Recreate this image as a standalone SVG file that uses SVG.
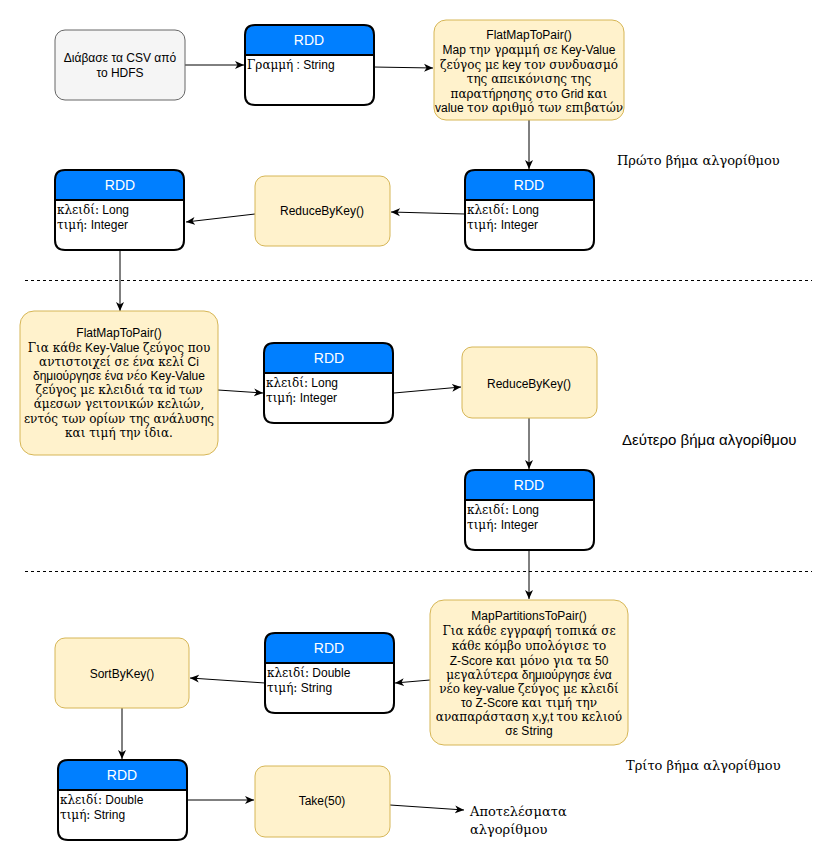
<svg xmlns="http://www.w3.org/2000/svg" width="836" height="862" viewBox="0 0 836 862">
<style>
text{font-family:"Liberation Sans",Arial,sans-serif;font-size:12px;fill:#000}
.g{font-family:"DejaVu Serif","Liberation Serif",serif;font-size:12px}
.c{text-anchor:middle}
.t{fill:#fff;font-size:14px;text-anchor:middle}
.y{fill:#fff2cc;stroke:#d6b656;stroke-width:1}
.gr{fill:#f5f5f5;stroke:#666;stroke-width:1}
.hd{fill:#007fff;stroke:#000;stroke-width:2}
.bd{fill:#fff;stroke:#000;stroke-width:2}
.e{fill:none;stroke:#000;stroke-width:1;marker-end:url(#a)}
.d{fill:none;stroke:#000;stroke-width:1;stroke-dasharray:3 3;shape-rendering:crispEdges}
.lbl{font-family:"DejaVu Serif","Liberation Serif",serif;font-size:13px}
</style>
<defs>
<marker id="a" markerWidth="10" markerHeight="10" refX="9" refY="5" orient="auto" markerUnits="userSpaceOnUse">
<path d="M0,1 L9,5 L0,9 L2.5,5 Z" fill="#000"/>
</marker>
<g id="rdd">
<path class="bd" d="M0,30 H129 V70 Q129,80 119,80 H10 Q0,80 0,70 Z"/>
<path class="hd" d="M0,30 V10 Q0,0 10,0 H119 Q129,0 129,10 V30 Z"/>
</g>
</defs>

<g id="connectors">
<path class="e" d="M185,65 L244,65"/>
<path class="e" d="M373,67 L433,68"/>
<path class="e" d="M529,120 L529,169"/>
<path class="e" d="M465,214 L391,212"/>
<path class="e" d="M255,214 L186,222"/>
<path class="e" d="M120,250 L120,311"/>
<path class="e" d="M218,390 L263,393"/>
<path class="e" d="M394,393 L461,387"/>
<path class="e" d="M529,418 L529,469"/>
<path class="e" d="M529,550 L529,599"/>
<path class="e" d="M430,680 L395,683"/>
<path class="e" d="M265,683 L190,678"/>
<path class="e" d="M122,708 L122,759"/>
<path class="e" d="M188,800 L254,800"/>
<path class="e" d="M390,805 L464,810"/>
</g>

<g id="separators">
<path class="d" d="M25,280.5 H812"/>
<path class="d" d="M25,571.5 H812"/>
</g>

<g id="readcsv">
<rect class="gr" x="55" y="30" width="130" height="70" rx="10"/>
<text class="c" x="120" y="62">Διάβασε τα CSV από</text>
<text class="c" x="120" y="77">το HDFS</text>
</g>

<g id="rdd1">
<use href="#rdd" transform="translate(245,25)"/>
<text class="t" x="309" y="45">RDD</text>
<text x="247" y="69"><tspan class="g">Γραμμή</tspan> : String</text>
</g>

<g id="flatmap1">
<rect class="y" x="434" y="20" width="190" height="100" rx="12"/>
<text class="c" x="529" y="39">FlatMapToPair()</text>
<text class="c" x="529" y="54">Map <tspan class="g">την γραμμή σε</tspan> Key-Value</text>
<text class="c" x="529" y="69"><tspan class="g">ζεύγος με</tspan> key <tspan class="g">τον συνδυασμό</tspan></text>
<text class="c" x="529" y="83"><tspan class="g">της απεικόνισης της</tspan></text>
<text class="c" x="529" y="98"><tspan class="g">παρατήρησης στο</tspan> Grid <tspan class="g">και</tspan></text>
<text class="c" x="529" y="112">value <tspan class="g">τον αριθμό των επιβατών</tspan></text>
</g>

<text id="step1" class="lbl" x="617" y="165">Πρώτο βήμα αλγορίθμου</text>

<g id="rdd2">
<use href="#rdd" transform="translate(465,170)"/>
<text class="t" x="529" y="190">RDD</text>
<text x="467" y="214"><tspan class="g">κλειδί:</tspan> Long</text>
<text x="467" y="229"><tspan class="g">τιμή:</tspan> Integer</text>
</g>

<g id="reduce1">
<rect class="y" x="255" y="176" width="135" height="70" rx="10"/>
<text class="c" x="322" y="215">ReduceByKey()</text>
</g>

<g id="rdd3">
<use href="#rdd" transform="translate(55,170)"/>
<text class="t" x="120" y="190">RDD</text>
<text x="57" y="214"><tspan class="g">κλειδί:</tspan> Long</text>
<text x="57" y="229"><tspan class="g">τιμή:</tspan> Integer</text>
</g>

<g id="flatmap2">
<rect class="y" x="20" y="311" width="198" height="144" rx="14"/>
<text class="c" x="119" y="337">FlatMapToPair()</text>
<text class="c" x="119" y="352"><tspan class="g">Για κάθε</tspan> Key-Value <tspan class="g">ζεύγος που</tspan></text>
<text class="c" x="119" y="366"><tspan class="g">αντιστοιχεί σε ένα κελί</tspan> Ci</text>
<text class="c" x="119" y="380">δημιούργησε ένα <tspan class="g">νέο</tspan> Key-Value</text>
<text class="c" x="119" y="394"><tspan class="g">ζεύγος με κλειδιά τα</tspan> id <tspan class="g">των</tspan></text>
<text class="c" x="119" y="408"><tspan class="g">άμεσων γειτονικών κελιών,</tspan></text>
<text class="c" x="119" y="423"><tspan class="g">εντός των ορίων της ανάλυσης</tspan></text>
<text class="c" x="119" y="437"><tspan class="g">και τιμή την ίδια.</tspan></text>
</g>

<g id="rdd4">
<use href="#rdd" transform="translate(264,343)"/>
<text class="t" x="329" y="363">RDD</text>
<text x="266" y="387"><tspan class="g">κλειδί:</tspan> Long</text>
<text x="266" y="402"><tspan class="g">τιμή:</tspan> Integer</text>
</g>

<g id="reduce2">
<rect class="y" x="462" y="347" width="135" height="71" rx="10"/>
<text class="c" x="529" y="388">ReduceByKey()</text>
</g>

<text id="step2" x="622" y="445" style="font-size:15px">Δεύτερο βήμα αλγορίθμου</text>

<g id="rdd5">
<use href="#rdd" transform="translate(465,470)"/>
<text class="t" x="529" y="490">RDD</text>
<text x="467" y="514"><tspan class="g">κλειδί:</tspan> Long</text>
<text x="467" y="529"><tspan class="g">τιμή:</tspan> Integer</text>
</g>

<g id="mappartitions">
<rect class="y" x="430" y="600" width="198" height="145" rx="14"/>
<text class="c" x="529" y="620">MapPartitionsToPair()</text>
<text class="c" x="529" y="635"><tspan class="g">Για κάθε εγγραφή τοπικά σε</tspan></text>
<text class="c" x="529" y="650"><tspan class="g">κάθε κόμβο υπολόγισε το</tspan></text>
<text class="c" x="529" y="665">Z-Score <tspan class="g">και μόνο για τα</tspan> 50</text>
<text class="c" x="529" y="679"><tspan class="g">μεγαλύτερα</tspan> δημιούργησε ένα</text>
<text class="c" x="529" y="693"><tspan class="g">νέο</tspan> key-value <tspan class="g">ζεύγος με κλειδί</tspan></text>
<text class="c" x="529" y="707">το Z-Score <tspan class="g">και τιμή την</tspan></text>
<text class="c" x="529" y="721"><tspan class="g">αναπαράσταση</tspan> x,y,t <tspan class="g">του κελιού</tspan></text>
<text class="c" x="529" y="735">σε String</text>
</g>

<text id="step3" class="lbl" x="626" y="770">Τρίτο βήμα αλγορίθμου</text>

<g id="rdd6">
<use href="#rdd" transform="translate(265,633)"/>
<text class="t" x="329" y="653">RDD</text>
<text x="267" y="677"><tspan class="g">κλειδί:</tspan> Double</text>
<text x="267" y="692"><tspan class="g">τιμή:</tspan> String</text>
</g>

<g id="sortbykey">
<rect class="y" x="55" y="638" width="134" height="70" rx="10"/>
<text class="c" x="122" y="678">SortByKey()</text>
</g>

<g id="rdd7">
<use href="#rdd" transform="translate(58,760)"/>
<text class="t" x="122" y="780">RDD</text>
<text x="60" y="804"><tspan class="g">κλειδί:</tspan> Double</text>
<text x="60" y="819"><tspan class="g">τιμή:</tspan> String</text>
</g>

<g id="take">
<rect class="y" x="255" y="766" width="135" height="71" rx="10"/>
<text class="c" x="322" y="805">Take(50)</text>
</g>

<g id="results">
<text class="lbl" x="470" y="816">Αποτελέσματα</text>
<text class="lbl" x="470" y="834">αλγορίθμου</text>
</g>
</svg>
